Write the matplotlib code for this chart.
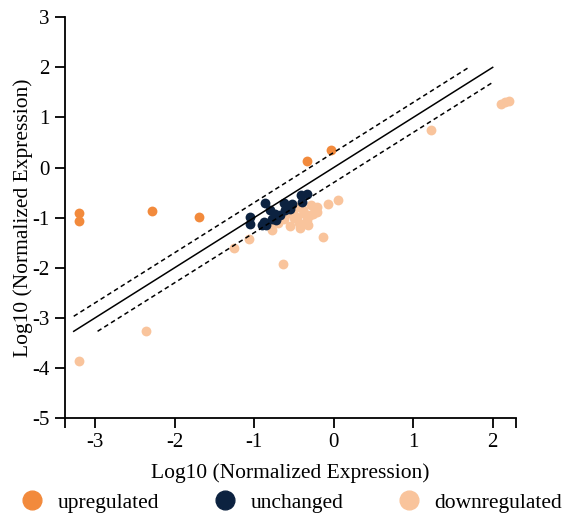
import numpy as np
import matplotlib
matplotlib.use('Agg')
import matplotlib.pyplot as plt
from matplotlib.lines import Line2D

plt.rcParams['font.family'] = ['Liberation Serif', 'DejaVu Serif']
plt.rcParams['axes.unicode_minus'] = False

# log10 normalized expression, x = control, y = treated
up_x = [-3.20, -3.20, -2.29, -1.69, -0.33, -0.03]
up_y = [-0.91, -1.06, -0.87, -0.98, 0.13, 0.36]

unchanged_x = [-1.05, -1.05, -0.86, -0.88, -0.85, -0.80, -0.78, -0.74, -0.72,
               -0.63, -0.61, -0.53, -0.55, -0.40, -0.41, -0.34, -0.90, -0.67]
unchanged_y = [-0.98, -1.12, -0.70, -1.08, -1.15, -0.85, -1.02, -0.92, -1.05,
               -0.70, -0.85, -0.72, -0.82, -0.68, -0.54, -0.52, -1.15, -0.95]

down_x = [-3.20, -2.36, -1.25, -1.06, -0.64, -0.14, 0.05, -0.07, 1.23,
          2.11, 2.16, 2.20,
          -0.76, -0.78, -0.63, -0.55, -0.51, -0.46, -0.42, -0.38, -0.34,
          -0.32, -0.28, -0.26, -0.21, -0.21, -0.57, -0.70, -0.48, -0.44,
          -0.30, -0.36, -0.24, -0.50, -0.60]
down_y = [-3.87, -3.27, -1.61, -1.43, -1.92, -1.38, -0.65, -0.73, 0.74,
          1.27, 1.31, 1.33,
          -1.08, -1.24, -1.02, -1.17, -0.88, -0.98, -1.21, -0.85, -1.05,
          -1.15, -0.75, -0.92, -0.78, -0.88, -0.82, -1.10, -0.78, -1.10,
          -0.95, -0.92, -0.84, -1.00, -0.92]

line_lo, line_hi = -3.27, 2.0
fold = 0.3

c_up = '#F28A3C'
c_unch = '#0C2240'
c_down = '#F9C49C'

fig = plt.figure(figsize=(5.68, 5.16), dpi=100)
ax = fig.add_axes([0.1144, 0.19, 0.7936, 0.7765])

ms = 50
ax.scatter(down_x, down_y, s=ms, color=c_down, linewidths=0, zorder=2)
ax.scatter(unchanged_x, unchanged_y, s=ms, color=c_unch, linewidths=0, zorder=3)
ax.scatter(up_x, up_y, s=ms, color=c_up, linewidths=0, zorder=3)

ax.plot([line_lo, line_hi], [line_lo, line_hi], color='black', lw=1.1, zorder=4)
ax.plot([line_lo, line_hi - fold], [line_lo + fold, line_hi],
        color='black', lw=1.1, ls=(0, (3, 2.2)), zorder=4)
ax.plot([line_lo + fold, line_hi], [line_lo, line_hi - fold],
        color='black', lw=1.1, ls=(0, (3, 2.2)), zorder=4)

xmin, xmax = -3.38, 2.29
ax.set_xlim(xmin, xmax)
ax.set_ylim(-5, 3)
xt = [xmin, -3, -2, -1, 0, 1, 2, xmax]
ax.set_xticks(xt)
ax.set_xticklabels(['', '-3', '-2', '-1', '0', '1', '2', ''])
ax.set_yticks(range(-5, 4))

for s in ['top', 'right']:
    ax.spines[s].set_visible(False)
for s in ['left', 'bottom']:
    ax.spines[s].set_linewidth(1.3)
ax.tick_params(direction='out', length=7, width=1.3, labelsize=15, pad=4)

ax.set_xlabel('Log10 (Normalized Expression)', fontsize=15.5)
ax.set_ylabel('Log10 (Normalized Expression)', fontsize=15.5)
ax.xaxis.set_label_coords(0.5, -0.112)
ax.yaxis.set_label_coords(-0.071, 0.5)

handles = [Line2D([], [], ls='', marker='o', ms=13.5, color=c)
           for c in (c_up, c_unch, c_down)]
fig.legend(handles, ['upregulated', 'unchanged', 'downregulated'],
           loc='center', bbox_to_anchor=(0.514, 0.026), ncol=3,
           frameon=False, fontsize=15.5, handletextpad=0.71,
           columnspacing=2.52, handlelength=1.0, borderpad=0.1)

fig.savefig('out.png', dpi=100)
